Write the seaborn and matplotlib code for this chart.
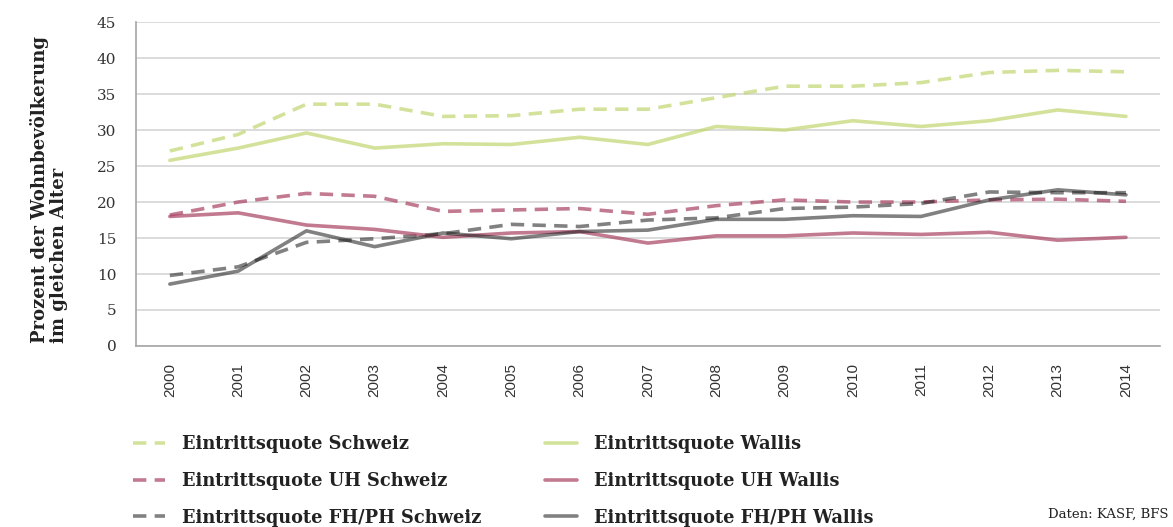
import numpy as np
import pandas as pd
import matplotlib
matplotlib.use("Agg")
import matplotlib.pyplot as plt
import seaborn as sns
from matplotlib.lines import Line2D

years = [str(y) for y in range(2000, 2015)]

# Eintrittsquoten in % der Wohnbevoelkerung im gleichen Alter
quote_schweiz = [27.1, 29.4, 33.6, 33.6, 31.9, 32.0, 32.9, 32.9, 34.5, 36.1, 36.1, 36.6, 38.0, 38.3, 38.1]
quote_wallis = [25.8, 27.5, 29.6, 27.5, 28.1, 28.0, 29.0, 28.0, 30.5, 30.0, 31.3, 30.5, 31.3, 32.8, 31.9]
uh_schweiz = [18.2, 20.0, 21.2, 20.8, 18.7, 18.9, 19.1, 18.3, 19.5, 20.3, 20.0, 20.0, 20.3, 20.4, 20.1]
uh_wallis = [18.0, 18.5, 16.8, 16.2, 15.1, 15.7, 15.9, 14.3, 15.3, 15.3, 15.7, 15.5, 15.8, 14.7, 15.1]
fhph_schweiz = [9.8, 11.0, 14.4, 14.9, 15.6, 16.9, 16.6, 17.5, 17.8, 19.1, 19.3, 19.8, 21.4, 21.3, 21.3]
fhph_wallis = [8.6, 10.4, 16.0, 13.8, 15.7, 14.9, 15.9, 16.1, 17.6, 17.6, 18.1, 18.0, 20.3, 21.7, 21.0]

labels = [
    "Eintrittsquote Schweiz",
    "Eintrittsquote UH Schweiz",
    "Eintrittsquote FH/PH Schweiz",
    "Eintrittsquote Wallis",
    "Eintrittsquote UH Wallis",
    "Eintrittsquote FH/PH Wallis",
]
series = [quote_schweiz, uh_schweiz, fhph_schweiz, quote_wallis, uh_wallis, fhph_wallis]

green = "#c1d771"
pink = "#a84261"
grey = "#1a1a1a"
colors = [green, pink, grey, green, pink, grey]
alphas = [0.7, 0.7, 0.55, 0.7, 0.7, 0.55]
dashed = (0, (3.7, 2.3))
styles = [dashed, dashed, dashed, "-", "-", "-"]

sns.set_style("white")
serif = ["DejaVu Serif"]

fig = plt.figure(figsize=(11.73, 5.27), dpi=100)
ax = fig.add_axes([0.1157, 0.3435, 0.9890 - 0.1157, 0.958 - 0.3435])

pos = np.arange(len(years))
handles = []
for vals, lab, col, a, ls in zip(series, labels, colors, alphas, styles):
    df = pd.DataFrame({"pos": pos, "val": vals})
    sns.lineplot(data=df, x="pos", y="val", ax=ax, color=col, alpha=a,
                 linestyle=ls, linewidth=2.6, legend=False)
    handles.append(Line2D([0], [0], color=col, alpha=a, linestyle=ls, linewidth=2.6))

ax.set_xlim(-0.5, len(years) - 0.5)
ax.set_ylim(0, 45)
ax.set_yticks(range(0, 46, 5))
ax.yaxis.grid(True, color="#d9d9d9", linewidth=1.3)
ax.set_axisbelow(True)

ax.set_xticks(pos)
ax.set_xticklabels(years, rotation=90, fontsize=11, color="#333333",
                   family=["Liberation Sans", "DejaVu Sans"])
ax.set_xticks(np.arange(-0.5, len(years)), minor=True)
ax.tick_params(axis="x", which="major", length=0, pad=12)
ax.tick_params(axis="x", which="minor", length=5, color="#a6a6a6", width=1)
ax.tick_params(axis="y", length=0, pad=14, labelsize=11, labelcolor="#333333")
for t in ax.get_yticklabels():
    t.set_family(serif)

for side in ["top", "right"]:
    ax.spines[side].set_visible(False)
for side in ["left", "bottom"]:
    ax.spines[side].set_color("#a6a6a6")
    ax.spines[side].set_linewidth(1.2)

ax.set_xlabel("")
ax.set_ylabel("")

fig.text(0.042, 0.64, "Prozent der Wohnbevölkerung\nim gleichen Alter",
         rotation=90, ha="center", va="center", multialignment="left",
         fontsize=13, fontweight="bold", family=serif, color="#222222",
         linespacing=1.1)

leg_kw = dict(frameon=False, handlelength=1.8, handletextpad=0.95,
              labelspacing=1.06, borderaxespad=0, borderpad=0,
              prop={"family": serif, "weight": "bold", "size": 12.8})
leg1 = fig.legend(handles[:3], labels[:3], loc="upper left",
                  bbox_to_anchor=(133 / 1173, 1 - 435 / 527), **leg_kw)
leg2 = fig.legend(handles[3:], labels[3:], loc="upper left",
                  bbox_to_anchor=(545 / 1173, 1 - 435 / 527), **leg_kw)
for leg in (leg1, leg2):
    for t in leg.get_texts():
        t.set_color("#222222")

fig.text(0.996, 0.012, "Daten: KASF, BFS", ha="right", va="bottom",
         fontsize=9.5, family=serif, color="#222222")

fig.savefig("out.png", dpi=100)
